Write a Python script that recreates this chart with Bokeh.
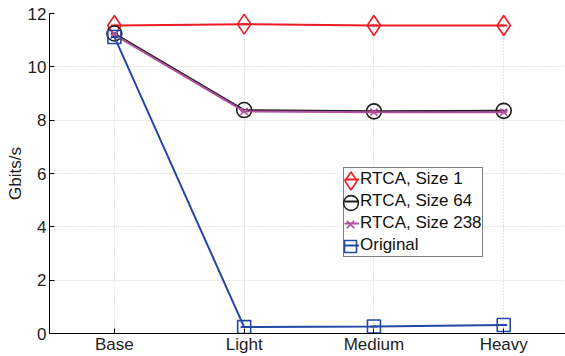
from bokeh.plotting import figure
from bokeh.models import FixedTicker, Range1d, Legend, LegendItem
from bokeh.embed import file_html
from bokeh.resources import INLINE

categories = ["Base", "Light", "Medium", "Heavy"]
x_pos = [1, 2, 3, 4]
size1 = [11.55, 11.6, 11.55, 11.55]
size64 = [11.25, 8.38, 8.33, 8.35]
size238 = [11.2, 8.33, 8.3, 8.3]
original = [11.12, 0.24, 0.26, 0.32]
y_ticks = [0, 2, 4, 6, 8, 10, 12]

FONT = "Liberation Sans"

p = figure(width=565, height=356, output_backend="svg", toolbar_location=None,
           x_range=Range1d(0.5, 4.476), y_range=Range1d(0, 12),
           min_border_left=49, min_border_right=0, min_border_top=13, min_border_bottom=23)
p.outline_line_color = None
p.background_fill_color = "white"
p.border_fill_color = "white"

p.xaxis.ticker = FixedTicker(ticks=x_pos)
p.xaxis.major_label_overrides = {x: c for x, c in zip(x_pos, categories)}
p.yaxis.ticker = FixedTicker(ticks=y_ticks)
p.yaxis.axis_label = "Gbits/s"

for ax in (p.xaxis[0], p.yaxis[0]):
    ax.major_tick_in = 5
    ax.major_tick_out = 0
    ax.minor_tick_in = 0
    ax.minor_tick_out = 0
    ax.axis_line_color = "black"
    ax.major_tick_line_color = "black"
    ax.major_label_text_font = FONT
    ax.major_label_text_font_size = "17px"
    ax.major_label_text_color = "#222222"
    ax.axis_label_text_font = FONT
    ax.axis_label_text_font_size = "17px"
    ax.axis_label_text_font_style = "normal"
    ax.axis_label_text_color = "#222222"
p.xaxis.major_label_standoff = 1
p.yaxis.major_label_standoff = 3
p.yaxis.axis_label_standoff = 0

for g in (p.xgrid[0], p.ygrid[0]):
    g.grid_line_color = "#c8c8c8"
    g.grid_line_dash = "1 2"
    g.grid_line_width = 1
p.xgrid.ticker = FixedTicker(ticks=x_pos)
p.ygrid.ticker = FixedTicker(ticks=y_ticks)

RED = "#ee1c25"
BLACK = "#1e1e1e"
MAG = "#b3509f"
BLUE = "#2248a5"

# label, values, colour, marker, plot size, legend glyph box
series = [
    ("RTCA, Size 1", size1, RED, "diamond", 20, 45),
    ("RTCA, Size 64", size64, BLACK, "circle", 15, 37),
    ("RTCA, Size 238", size238, MAG, "x", 10, 26),
    ("Original", original, BLUE, "square", 13, 30),
]

# legend geometry (screen px relative to frame bottom-left)
LEG_X, LEG_Y = 294, 76
ROW_H = 22
MARK_X = LEG_X + 7

items = []
marker_legends = []
n = len(series)
for i, (label, ys, color, marker, sz, gbox) in enumerate(series):
    ln = p.line(x_pos, ys, line_color=color, line_width=2)
    mk = p.scatter(x_pos, ys, marker=marker, size=sz, line_color=color,
                   fill_color=None, line_width=1.6)
    p.scatter(x_pos, ys, marker="dash", size=7, line_color=color, line_width=2)
    items.append(LegendItem(label=label, renderers=[ln]))
    cy = LEG_Y + (n - i - 0.5) * ROW_H
    ml = Legend(items=[LegendItem(label="", renderers=[mk])],
                location=(MARK_X - gbox / 2, cy - gbox / 2),
                glyph_width=gbox, glyph_height=gbox, label_height=gbox,
                label_standoff=0, padding=0, margin=0, spacing=0,
                border_line_color=None, background_fill_alpha=0,
                label_text_font_size="1px")
    marker_legends.append(ml)

legend = Legend(items=items, location=(LEG_X, LEG_Y))
legend.border_line_color = "black"
legend.border_line_width = 1
legend.background_fill_color = "white"
legend.background_fill_alpha = 1
legend.label_text_font = FONT
legend.label_text_font_size = "17px"
legend.label_text_color = "#111111"
legend.glyph_width = 15
legend.glyph_height = ROW_H
legend.label_height = ROW_H
legend.label_standoff = 1
legend.padding = 0
legend.margin = 0
legend.spacing = 0
p.add_layout(legend, "center")
for ml in marker_legends:
    p.add_layout(ml, "center")

open("out.html", "w").write(file_html(p, INLINE))
